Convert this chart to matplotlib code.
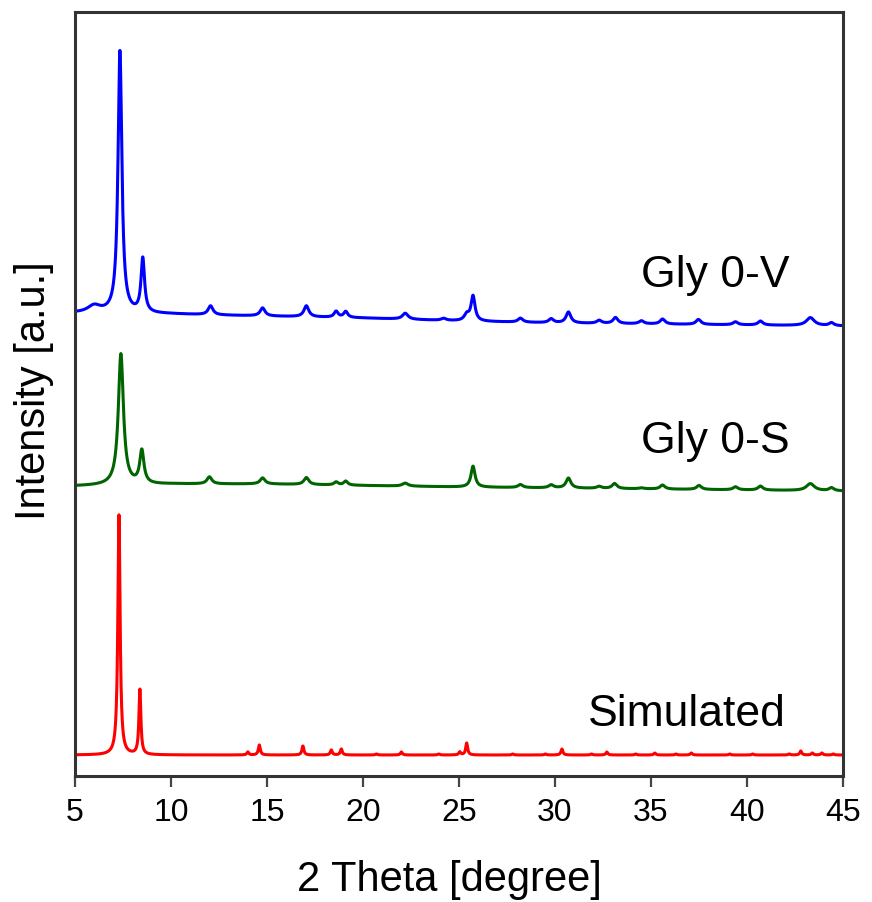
import numpy as np
import matplotlib
matplotlib.use("Agg")
import matplotlib.pyplot as plt

plt.rcParams['font.family'] = ['Liberation Sans', 'DejaVu Sans']

# peak lists: position (2theta), height, FWHM
# heights are on the plot's arbitrary intensity scale (offset stacked)
v_pos = [6.0, 7.34, 8.53, 12.06, 14.77, 17.05, 18.6, 19.1, 22.2, 24.2, 25.4, 25.73,
         28.2, 29.8, 30.7, 32.3, 33.15, 34.5, 35.6, 37.47, 39.4, 40.7, 43.3, 44.4]
v_hgt = [7, 262, 54, 9, 8, 11, 6, 6, 6, 2, 6, 25,
         4, 4, 11, 3, 6, 3, 5, 5, 3, 4, 8, 3]
v_wid = [0.8, 0.24, 0.22, 0.3, 0.3, 0.3, 0.25, 0.25, 0.35, 0.3, 0.3, 0.25,
         0.3, 0.3, 0.3, 0.3, 0.3, 0.3, 0.3, 0.3, 0.3, 0.3, 0.5, 0.3]
v_bg_x = [5, 10, 12, 20, 25, 30, 45]
v_bg_y = [463, 462, 461, 458, 455, 453, 450]

s_pos = [7.39, 8.48, 12.0, 14.77, 17.05, 18.6, 19.1, 22.2, 25.73, 28.2, 29.8, 30.7,
         32.3, 33.1, 34.5, 35.6, 37.5, 39.4, 40.7, 43.3, 44.4]
s_hgt = [131, 33, 7, 6, 7, 3, 4, 3, 21, 3, 3, 10,
         2, 5, 1, 4, 4, 3, 4, 7, 3]
s_wid = [0.32, 0.26, 0.3, 0.3, 0.3, 0.25, 0.25, 0.35, 0.25, 0.3, 0.3, 0.3,
         0.3, 0.3, 0.3, 0.3, 0.3, 0.3, 0.3, 0.5, 0.3]
s_bg_x = [5, 10, 15, 25, 30, 45]
s_bg_y = [290, 292, 292, 289, 288, 285]

r_pos = [7.29, 8.38, 14.0, 14.6, 16.87, 18.35, 18.87, 20.7, 22.0, 23.94, 25.04, 25.4,
         27.8, 29.5, 30.36, 31.9, 32.7, 34.2, 35.2, 36.3, 37.1, 39.1, 40.3, 42.2,
         42.8, 43.4, 43.9, 44.5]
r_hgt = [240, 65, 3, 10, 9, 5, 6, 1, 3, 1, 3, 12,
         1, 1, 6, 1, 3, 1, 2, 1, 2, 1, 1, 1,
         4, 2, 2, 1]
r_wid = [0.14, 0.12] + [0.12] * 26
r_base = 21

labels = ['Gly 0-V', 'Gly 0-S', 'Simulated']
label_x = [34.5, 34.5, 31.7]
label_y = [489, 323, 50]
colors = ['#0000ff', '#006400', '#ff0000']

tth = np.linspace(5, 45, 4001)


def pattern(pos, hgt, wid, bg):
    y = np.array(bg, dtype=float)
    for c, h, w in zip(pos, hgt, wid):
        y = y + h / (1 + ((tth - c) / (w / 2)) ** 2)
    return y


blue = pattern(v_pos, v_hgt, v_wid, np.interp(tth, v_bg_x, v_bg_y))
green = pattern(s_pos, s_hgt, s_wid, np.interp(tth, s_bg_x, s_bg_y))
red = pattern(r_pos, r_hgt, r_wid, np.full_like(tth, r_base))

fig = plt.figure(figsize=(8.72, 9.02), dpi=100)
ax = fig.add_axes([75 / 872, 126 / 902, 768 / 872, 764 / 902])

for y, col in zip([blue, green, red], colors):
    ax.plot(tth, y, color=col, lw=2.2)

for t, x, y in zip(labels, label_x, label_y):
    ax.text(x, y, t, fontsize=32, ha='left', va='baseline', color='black')

ax.set_xlim(5, 45)
ax.set_ylim(0, 764)
ax.set_xticks(range(5, 46, 5))
ax.set_yticks([])
ax.tick_params(axis='x', direction='out', length=8, width=1.6, color='#444444',
               labelsize=23, pad=8)
for sp in ax.spines.values():
    sp.set_linewidth(2.2)
    sp.set_color('#333333')

ax.set_xlabel('2 Theta [degree]', fontsize=30)
ax.xaxis.set_label_coords(0.488, -0.136)
ax.xaxis.label.set_va('center')
ax.set_ylabel('Intensity [a.u.]', fontsize=30)
ax.yaxis.set_label_coords(-0.054, 0.505)
ax.yaxis.label.set_va('center')

fig.savefig('out.png', dpi=100)
